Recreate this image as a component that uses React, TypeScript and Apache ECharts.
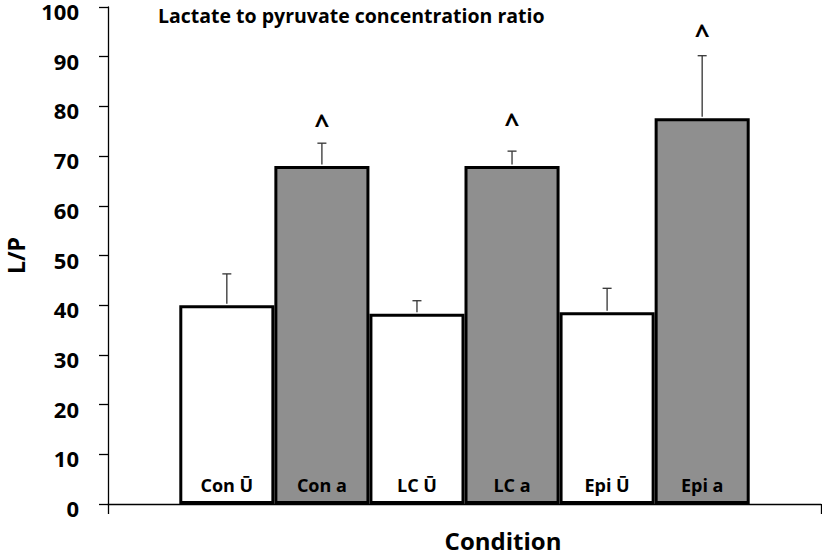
import React, { useEffect, useRef } from "react";
import * as echarts from "echarts";

const categories = ["Condition"];
const barLabels = ["Con Ū", "Con a", "LC Ū", "LC a", "Epi Ū", "Epi a"];
const means = [40.0, 68.0, 38.3, 68.0, 38.6, 77.6];
const errUpper = [46.3, 72.6, 40.9, 71.0, 43.4, 90.2];
const caretPos: (number | null)[] = [null, 77.3, null, 77.5, null, 95.4];
const yTicks = { min: 0, max: 100, interval: 10 };

const FONT = "Open Sans";
const fills = ["#ffffff", "#8f8f8f", "#ffffff", "#8f8f8f", "#ffffff", "#8f8f8f"];
const BAR_CAT_GAP = 0.2;

export default function App() {
  const ref = useRef<HTMLDivElement>(null);
  useEffect(() => {
    if (!ref.current) return;
    const chart = echarts.init(ref.current, undefined, { renderer: "svg" });
    const n = barLabels.length;
    const barSeries = barLabels.map((name, i) => ({
      type: "bar",
      name,
      data: [means[i]],
      barGap: "0%",
      barCategoryGap: BAR_CAT_GAP * 100 + "%",
      itemStyle: { color: fills[i], borderColor: "#000", borderWidth: 3 },
      label: {
        show: true,
        position: "insideBottom",
        distance: 10,
        formatter: name,
        fontFamily: FONT,
        fontWeight: "bold",
        fontSize: 18,
        color: "#000",
      },
      z: 2,
    }));
    const errData = barLabels.map((_, i) => [0, means[i], errUpper[i], i, caretPos[i] ?? -1]);
    const errSeries = {
      type: "custom",
      z: 5,
      encode: { x: 0, y: 1 },
      data: errData,
      renderItem: (params: any, api: any) => {
        const mean = api.value(1);
        const up = api.value(2);
        const idx = api.value(3);
        const car = api.value(4);
        const base = api.coord([0, mean]);
        const bw = api.size([1, 0])[0];
        const barW = (bw * (1 - BAR_CAT_GAP)) / n;
        const x = base[0] - (bw * (1 - BAR_CAT_GAP)) / 2 + (idx + 0.5) * barW;
        const yTop = api.coord([0, up])[1];
        const yBase = base[1] - 1.5;
        const children: any[] = [
          { type: "line", shape: { x1: x, y1: yBase, x2: x, y2: yTop }, style: { stroke: "#333", lineWidth: 1.3 } },
          { type: "line", shape: { x1: x - 4.5, y1: yTop, x2: x + 4.5, y2: yTop }, style: { stroke: "#333", lineWidth: 1.3 } },
        ];
        if (car >= 0) {
          const yc = api.coord([0, car])[1];
          children.push({
            type: "text",
            x,
            y: yc + 4,
            style: {
              text: "^",
              fontFamily: FONT,
              fontWeight: "bold",
              fontSize: 26,
              fill: "#000",
              align: "center",
              verticalAlign: "middle",
            },
          });
        }
        return { type: "group", children };
      },
    };
    chart.setOption({
      animation: false,
      grid: { left: 108, right: 1, top: 7, bottom: 51, containLabel: false, outerBoundsMode: "none" },
      xAxis: {
        type: "category",
        data: categories,
        axisLine: { lineStyle: { color: "#000", width: 1.3 } },
        axisTick: { show: true, length: 10, lineStyle: { color: "#000", width: 1.3 } },
        axisLabel: { show: false },
        splitLine: { show: false },
      },
      yAxis: {
        type: "value",
        min: yTicks.min,
        max: yTicks.max,
        interval: yTicks.interval,
        name: "L/P",
        nameLocation: "middle",
        nameRotate: 90,
        nameGap: 81,
        nameTextStyle: { fontFamily: FONT, fontWeight: "bold", fontSize: 23, color: "#000" },
        axisLine: { show: true, lineStyle: { color: "#000", width: 1.3 } },
        axisTick: { show: true, length: 9, lineStyle: { color: "#000", width: 1.3 } },
        axisLabel: {
          margin: 29,
          fontFamily: FONT,
          fontWeight: "bold",
          fontSize: 22,
          color: "#000",
          verticalAlign: "top",
          lineHeight: 8,
        },
        splitLine: { show: false },
      },
      graphic: [
        {
          type: "text",
          left: 158,
          top: 5,
          style: {
            text: "Lactate to pyruvate concentration ratio",
            fontFamily: FONT,
            fontWeight: "bold",
            fontSize: 19.5,
            fill: "#000",
          },
        },
        {
          type: "text",
          x: 503,
          y: 540,
          style: {
            text: "Condition",
            fontFamily: FONT,
            fontWeight: "bold",
            fontSize: 24,
            fill: "#000",
            align: "center",
            verticalAlign: "middle",
          },
        },
      ],
      series: [...barSeries, errSeries],
    });
    return () => chart.dispose();
  }, []);
  return (
    <div
      ref={ref}
      style={{ position: "fixed", left: 0, top: 0, width: 822, height: 555, background: "#fff" }}
    />
  );
}
